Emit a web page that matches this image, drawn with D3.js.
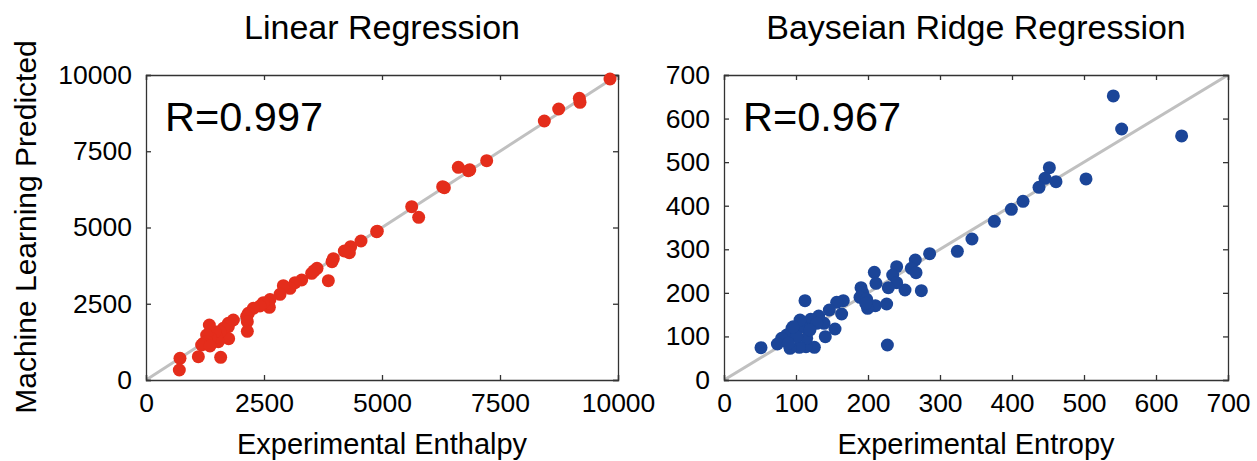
<!DOCTYPE html>
<html><head><meta charset="utf-8">
<script src="https://cdn.jsdelivr.net/npm/d3@7"></script>
<style>body{margin:0;background:#fff}svg{display:block}text{font-family:"Liberation Sans",Arial,Helvetica,sans-serif;fill:#000}</style>
</head><body>
<svg id="c" width="1257" height="461"></svg>
<script>
// ---- data ----
const enthalpyExp = [9831,9181,9195,8743,8439,7218,6617,6829,6860,6285,6321,5629,5777,4887,4900,4555,4336,4308,4202,3969,3941,3863,3623,3560,3510,3298,3157,3051,2910,2839,2627,2613,2591,2486,2415,2274,2168,2133,2147,2147,1850,1744,1744,1751,1638,1568,1532,1497,1462,1342,1370,1285,1285,1215,1179,1356,1582,1109,720,706];
const enthalpyPred = [9869,9235,9104,8885,8492,7191,6973,6863,6890,6339,6306,5683,5333,4863,4880,4557,4372,4175,4230,3978,3880,3257,3661,3580,3497,3279,3191,3005,3093,2809,2640,2383,2514,2536,2426,2350,2186,2090,1913,1596,1967,1858,1749,1355,1694,1585,1257,1421,1585,1803,1366,1475,1257,1202,1148,1115,743,765,710,328];
const entropyExp = [540.7,552.3,635.6,451.9,445.8,461.1,437.5,502.8,415.3,399.1,375.5,344.4,324.1,285.6,265.7,260.2,266.7,274.1,251.4,239.8,234.3,239.8,228.2,208.8,211.1,225.9,226.9,210.2,190.3,192.6,188.9,198.1,199.5,196.8,165.7,156.5,163.4,154.2,146.3,140.7,138.9,131.5,120.4,125.5,113.9,112.5,117.1,107.9,114.8,104.6,91.7,94.4,87.0,80.1,74.1,51.4,100.9,89.4,105.6,128.7,119.4,96.0];
const entropyPred = [651.9,576.1,560.1,487.4,462.9,455.2,442.2,461.4,410.1,391.7,364.2,323.6,295.3,290.0,275.4,256.3,246.4,205.0,206.6,260.1,241.0,223.4,211.9,247.1,221.9,174.4,80.3,170.6,211.9,200.5,189.7,185.2,164.5,176.0,182.1,178.3,151.5,117.1,160.7,99.5,130.1,146.9,139.3,75.0,76.5,182.1,116.3,122.4,95.6,75.0,72.7,118.6,103.3,95.6,82.6,74.2,99.5,84.2,137.7,130.0,114.8,122.0];
const ticksLeft = [0,2500,5000,7500,10000];
const ticksRight = [0,100,200,300,400,500,600,700];
const titles = ["Linear Regression","Bayseian Ridge Regression"];
const xLabels = ["Experimental Enthalpy","Experimental Entropy"];
const yLabel = "Machine Learning Predicted";
const rLabels = ["R=0.997","R=0.967"];

const svg = d3.select("#c");
const panels = [
  {x0:146,x1:618,max:10000,ticks:ticksLeft,xs:enthalpyExp,ys:enthalpyPred,color:"#e42d1b",title:titles[0],xl:xLabels[0],r:rLabels[0]},
  {x0:724,x1:1228,max:700,ticks:ticksRight,xs:entropyExp,ys:entropyPred,color:"#1b4598",title:titles[1],xl:xLabels[1],r:rLabels[1]}
];
const plotTop=75,plotBottom=380;
panels.forEach((p,i)=>{
  const x=d3.scaleLinear().domain([0,p.max]).range([p.x0,p.x1]);
  const y=d3.scaleLinear().domain([0,p.max]).range([plotBottom,plotTop]);
  const g=svg.append("g");
  const clipId="clip"+i;
  svg.append("clipPath").attr("id",clipId).append("rect").attr("x",p.x0).attr("y",plotTop).attr("width",p.x1-p.x0).attr("height",plotBottom-plotTop);
  // diagonal
  g.append("line").attr("clip-path",`url(#${clipId})`)
    .attr("x1",x(0)).attr("y1",y(0)).attr("x2",x(p.max)).attr("y2",y(p.max))
    .attr("stroke","#c0c0c0").attr("stroke-width",3);
  // axes (ticks inward, mirrored)
  const fmt=d=>String(d);
  const ax=[
    {a:d3.axisBottom(x).tickValues(p.ticks).tickFormat(fmt).tickSize(-5).tickPadding(13),t:`translate(0,${plotBottom})`},
    {a:d3.axisTop(x).tickValues(p.ticks).tickFormat("").tickSize(-5),t:`translate(0,${plotTop})`},
    {a:d3.axisLeft(y).tickValues(p.ticks).tickFormat(fmt).tickSize(-5).tickPadding(14),t:`translate(${p.x0},0)`},
    {a:d3.axisRight(y).tickValues(p.ticks).tickFormat("").tickSize(-5),t:`translate(${p.x1},0)`}
  ];
  ax.forEach(o=>{
    const ag=g.append("g").attr("transform",o.t).call(o.a);
    ag.select(".domain").attr("stroke","#333").attr("stroke-width",1.3);
    ag.selectAll(".tick line").attr("stroke","#333").attr("stroke-width",1.3);
    ag.selectAll(".tick text").style("font-size","26.5px").style("font-family","'Liberation Sans',Arial,sans-serif").attr("fill","#000");
  });
  // points
  g.append("g").selectAll("circle").data(p.xs.map((v,k)=>[v,p.ys[k]])).join("circle")
    .attr("cx",d=>x(d[0])).attr("cy",d=>y(d[1])).attr("r",6.5).attr("fill",p.color);
  // texts
  const cx=(p.x0+p.x1)/2;
  svg.append("text").attr("x",cx).attr("y",39).attr("text-anchor","middle").style("font-size","34px").text(p.title);
  svg.append("text").attr("x",cx).attr("y",454).attr("text-anchor","middle").style("font-size","29px").text(p.xl);
  svg.append("text").attr("x",p.x0+19).attr("y",131).style("font-size","41.5px").text(p.r);
});
svg.append("text").attr("transform","translate(36,227) rotate(-90)").attr("text-anchor","middle").style("font-size","30px").text(yLabel);
</script>
</body></html>
